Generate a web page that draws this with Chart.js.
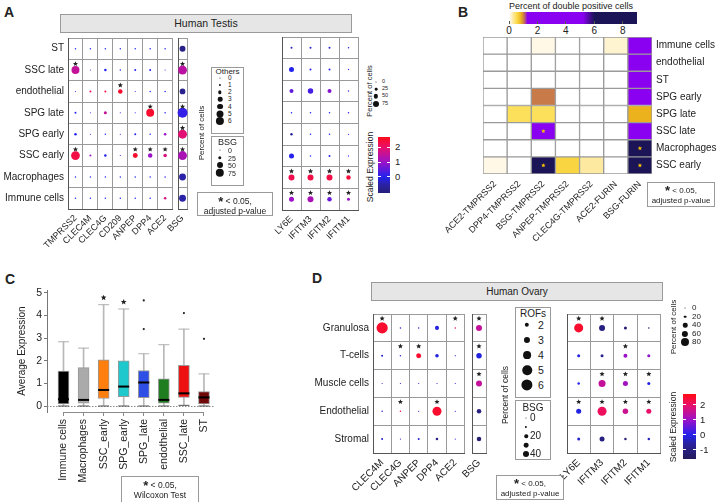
<!DOCTYPE html>
<html>
<head>
<meta charset="utf-8">
<title>Testis / ovary expression</title>
<script src="https://cdn.jsdelivr.net/npm/chart.js@4.4.1/dist/chart.umd.min.js"></script>
<style>
  body { margin: 0; background: #fff; font-family: "Liberation Sans", Arial, sans-serif; color: #222; }
  #page { position: relative; width: 718px; height: 502px; overflow: hidden; }
  #page canvas { position: absolute; }
  .t { position: absolute; white-space: nowrap; line-height: 1; }
  .box { position: absolute; box-sizing: border-box; border: 1px solid #9a9a9a; background: #fff; }
  .hdr { position: absolute; box-sizing: border-box; border: 1px solid #9a9a9a; background: #e6e6e6; text-align: center; }
  .dot { position: absolute; border-radius: 50%; background: #111; transform: translate(-50%, -50%); }
  .note { position: absolute; box-sizing: border-box; border: 1px solid #9a9a9a; text-align: center; line-height: 1.2; padding-top: 3px; }
  .note b { font-size: 13px; line-height: 0; position: relative; top: 2px; }
</style>
</head>
<body>
<div id="page"></div>
<script>
// ---- panel A: human testis dot plot ----
const aRows = ['ST', 'SSC late', 'endothelial', 'SPG late', 'SPG early', 'SSC early', 'Macrophages', 'Immune cells'];
const aGenes = ['TMPRSS2', 'CLEC4M', 'CLEC4G', 'CD209', 'ANPEP', 'DPP4', 'ACE2'];
const aPct = [
  [0.4, 0.4, 0.4, 0.4, 0.4, 0.4, 0.4],
  [5.8, 0.1, 1.25, 0.4, 0.8, 0.8, 0.1],
  [0.1, 0.8, 0.8, 2.9, 0.1, 0.4, 0.4],
  [0.8, 0.1, 1.7, 0.1, 0.1, 5.8, 0.4],
  [1.25, 0.1, 0.4, 0.1, 0.8, 0.4, 1.25],
  [6.5, 0.8, 1.25, 0.1, 3.3, 2.9, 2.1],
  [0.4, 0.4, 0.4, 0.4, 0.4, 0.4, 0.4],
  [0.4, 0.4, 0.4, 0.4, 0.4, 0.4, 1.25]
];
const aExpr = [
  [0, 0, 0, 0, 0, 0, 0],
  [1.5, 0, 0, 0, 0, 0, 0],
  [0, 2.2, 2.3, 2.5, 0, 0, 0],
  [0, 0, 1.5, 0, 0, 2.5, 0],
  [0, 0, 0, 0, 0, 0, 1.0],
  [2.3, 1.0, 0, 0, 2.5, 1.0, 1.8],
  [0, 0, 0, 0, 0, 0, 0],
  [0, 0, 0, 0, 0, 0, 1.8]
];
const aSig = [
  [0, 0, 0, 0, 0, 0, 0],
  [1, 0, 0, 0, 0, 0, 0],
  [0, 0, 0, 1, 0, 0, 0],
  [0, 0, 0, 0, 0, 1, 0],
  [0, 0, 0, 0, 0, 0, 0],
  [1, 0, 0, 0, 1, 1, 1],
  [0, 0, 0, 0, 0, 0, 0],
  [0, 0, 0, 0, 0, 0, 0]
];
const aBsgPct = [50, 80, 48, 90, 80, 80, 60, 60];
const aBsgExpr = [-0.9, 1.4, -0.8, 0.15, 1.9, 1.2, -0.5, -0.5];
const aBsgSig = [0, 1, 0, 1, 1, 1, 0, 0];
const aIfGenes = ['LY6E', 'IFITM3', 'IFITM2', 'IFITM1'];
const aIfPct = [
  [15, 15, 15, 8], [60, 15, 15, 3], [45, 67, 45, 8], [8, 8, 8, 8],
  [22, 8, 8, 3], [60, 8, 15, 3], [75, 75, 75, 52], [60, 75, 52, 30]
];
const aIfExpr = [
  [-0.3, -0.2, -0.2, 0], [0, -0.1, -0.1, 0], [0.5, 0.3, 0.8, 0.3], [0, 0, 0, 0.2],
  [-0.6, 0, 0, 0], [0.05, 0, -0.1, 0], [2.2, 2.3, 2.3, 2.4], [1.0, 1.2, 0.6, 1.0]
];
const aIfSig = [
  [0, 0, 0, 0], [0, 0, 0, 0], [0, 0, 0, 0], [0, 0, 0, 0],
  [0, 0, 0, 0], [0, 0, 0, 0], [1, 1, 1, 1], [1, 1, 1, 1]
];

// ---- panel B: double positive heatmap ----
const bRows = ['Immune cells', 'endothelial', 'ST', 'SPG early', 'SPG late', 'SSC late', 'Macrophages', 'SSC early'];
const bPairs = ['ACE2-TMPRSS2', 'DPP4-TMPRSS2', 'BSG-TMPRSS2', 'ANPEP-TMPRSS2', 'CLEC4G-TMPRSS2', 'ACE2-FURIN', 'BSG-FURIN'];
const bVals = [
  [0, 0, 0.08, 0, 0, 0.15, 3.5],
  [0, 0, 0, 0, 0, 0, 3.5],
  [0, 0, 0, 0, 0, 0, 3.5],
  [0, 0, 1.05, 0, 0, 0, 3.5],
  [0, 0.5, 0.5, 0, 0, 0, 0.85],
  [0, 0, 3.0, 0, 0, 0, 3.5],
  [0, 0, 0, 0, 0, 0, 7.5],
  [0.08, 0, 7.5, 0.6, 0.3, 0, 7.5]
];
const bSig = [
  [0, 0, 0, 0, 0, 0, 0], [0, 0, 0, 0, 0, 0, 0], [0, 0, 0, 0, 0, 0, 0], [0, 0, 0, 0, 0, 0, 0],
  [0, 0, 0, 0, 0, 0, 0], [0, 0, 1, 0, 0, 0, 0], [0, 0, 0, 0, 0, 0, 1], [0, 0, 1, 0, 0, 0, 1]
];
const bTicks = [0, 2, 4, 6, 8];

// ---- panel C: boxplot ----
const cCats = ['Immune cells', 'Macrophages', 'SSC_early', 'SPG_early', 'SPG_late', 'endothelial', 'SSC_late', 'ST'];
const cMin = [0, 0, 0, 0, 0, 0, 0.03, 0];
const cQ1 = [0.09, 0.12, 0.33, 0.41, 0.37, 0.12, 0.38, 0.09];
const cMed = [0.3, 0.27, 0.71, 0.86, 1.04, 0.27, 0.56, 0.38];
const cQ3 = [1.55, 1.70, 2.04, 2.0, 1.57, 1.2, 1.80, 0.64];
const cMax = [2.84, 2.56, 4.48, 4.29, 2.31, 2.71, 3.40, 1.42];
const cOut = [[], [], [], [], [3.40, 4.67], [], [4.11], [2.97]];
const cSig = [0, 0, 1, 1, 0, 0, 0, 0];
const cColors = ['#000000', '#aaaaaa', '#ff7f0e', '#1fc8cc', '#2d4fe6', '#1e7d1e', '#ee1111', '#700808'];
const cYTicks = [0, 1, 2, 3, 4, 5];

// ---- panel D: human ovary dot plot ----
const dRows = ['Granulosa', 'T-cells', 'Muscle cells', 'Endothelial', 'Stromal'];
const dGenes = ['CLEC4M', 'CLEC4G', 'ANPEP', 'DPP4', 'ACE2'];
const dPct = [
  [6.0, 0.3, 0.3, 1.8, 0.3],
  [0.6, 0.3, 2.35, 1.5, 0.1],
  [0.1, 0.1, 0.1, 0.1, 0.1],
  [0.3, 0.3, 0.1, 4.7, 0.1],
  [0.6, 0.1, 0.6, 0.9, 0.1]
];
const dExpr = [
  [2.5, -0.2, -0.2, -0.1, 2.3],
  [-0.2, -0.2, 2.5, -0.1, -0.2],
  [-0.2, -0.2, -0.2, -0.2, -0.2],
  [-0.2, 2.3, -0.2, 2.5, -0.2],
  [-0.2, -0.2, -0.2, -0.8, -0.2]
];
const dSig = [
  [1, 0, 0, 0, 1], [0, 1, 1, 0, 0], [0, 0, 0, 0, 0], [0, 1, 0, 1, 0], [0, 0, 0, 0, 0]
];
const dBsgPct = [40, 36, 40, 28, 28];
const dBsgExpr = [1.5, -0.1, 1.5, -1.0, -1.3];
const dBsgSig = [1, 1, 1, 0, 0];
const dIfGenes = ['LY6E', 'IFITM3', 'IFITM2', 'IFITM1'];
const dIfPct = [
  [92, 57, 23, 6], [23, 23, 34, 23], [17, 69, 46, 23], [46, 92, 52, 46], [23, 46, 17, 17]
];
const dIfExpr = [
  [2.5, -1.0, -1.2, -1.3], [-0.1, -0.9, 1.0, 0.9], [0, 1.5, 1.1, 0], [-0.1, 2.1, 1.6, 2.0], [-0.2, -1.0, -1.2, -0.3]
];
const dIfSig = [
  [1, 1, 0, 0], [0, 0, 1, 0], [0, 1, 1, 1], [1, 1, 1, 1], [0, 0, 0, 0]
];

// size scales (radius in px) for each legend
const aRad = v => 0.5 + 3.6 * v / 6;
const aBsgRad = v => 0.5 + 3.7 * v / 75;
const aIfRad = v => 0.5 + 2.5 * v / 75;
const dRad = v => 0.5 + 0.85 * v;
const dBsgRad = v => 0.5 + 2.5 * v / 40;
const dIfRad = v => 0.5 + 3.5 * v / 80;

function ramp(stops) {
  const s = stops.map(p => [p[0], parseInt(p[1].slice(1, 3), 16), parseInt(p[1].slice(3, 5), 16), parseInt(p[1].slice(5, 7), 16)]);
  const rgb = c => 'rgb(' + c[1] + ',' + c[2] + ',' + c[3] + ')';
  return v => {
    if (v <= s[0][0]) return rgb(s[0]);
    for (let k = 1; k < s.length; k++) {
      if (v <= s[k][0]) {
        const a = s[k - 1], b = s[k], t = (v - a[0]) / (b[0] - a[0]);
        return 'rgb(' + [1, 2, 3].map(q => Math.round(a[q] + t * (b[q] - a[q]))).join(',') + ')';
      }
    }
    return rgb(s[s.length - 1]);
  };
}
const exprColor = ramp([[-1.6, '#231c5c'], [-0.6, '#2a229a'], [0, '#2222ee'], [1, '#9b12c9'], [2, '#ea106a'], [2.7, '#ff0a14']]);
const heatColor = ramp([[0, '#ffffff'], [0.05, '#fffaf0'], [0.3, '#fdeaa0'], [0.55, '#fcdc48'], [0.85, '#ebb21e'],
  [1.05, '#c87a48'], [1.3, '#8a00f0'], [5.2, '#8a00f0'], [6, '#1b1558'], [9, '#1b1558']]);

Chart.defaults.font.family = '"Liberation Sans", Arial, sans-serif';
Chart.defaults.color = '#222';
Chart.defaults.animation = false;
Chart.defaults.plugins.legend.display = false;
Chart.defaults.plugins.tooltip.enabled = false;

const page = document.getElementById('page');

// pin axis sizes so every plot area lands where the reference has it
const fixX = h => s => { s.height = h; s.paddingLeft = 0; s.paddingRight = 0; };
const fixY = w => s => { s.width = w; s.paddingTop = 0; s.paddingBottom = 0; };

function place(x, y, w, h) {
  const c = document.createElement('canvas');
  c.width = w; c.height = h;
  c.style.left = x + 'px'; c.style.top = y + 'px';
  page.appendChild(c);
  return c;
}
function el(cls, x, y, w, h, html) {
  const d = document.createElement('div');
  d.className = cls;
  d.style.cssText = `left:${x}px;top:${y}px;width:${w}px;height:${h}px`;
  if (html) d.innerHTML = html;
  page.appendChild(d);
  return d;
}
function txt(x, y, s, size, align, extra) {
  const d = document.createElement('div');
  d.className = 't';
  d.textContent = s;
  const tx = align === 'l' ? '0' : align === 'r' ? '-100%' : '-50%';
  d.style.cssText = `left:${x}px;top:${y}px;font-size:${size}px;transform:translate(${tx},-50%);` + (extra || '');
  page.appendChild(d);
  return d;
}
function vtxt(x, y, s, size) {
  return txt(x, y, s, size, 'c', 'transform:translate(-50%,-50%) rotate(-90deg);');
}
function dot(x, y, d) {
  const e = document.createElement('div');
  e.className = 'dot';
  e.style.cssText = `left:${x}px;top:${y}px;width:${d}px;height:${d}px`;
  page.appendChild(e);
}
function exprBar(x, y, w, h, vTop, vBot, ticks, labX) {
  const stops = [];
  for (let k = 0; k <= 20; k++) stops.push(exprColor(vTop + (vBot - vTop) * k / 20) + ' ' + (k * 5) + '%');
  const b = el('t', x, y, w, h);
  b.style.background = 'linear-gradient(to bottom,' + stops.join(',') + ')';
  ticks.forEach(v => {
    const py = y + (vTop - v) / (vTop - vBot) * h;
    el('t', x, py - 0.5, 3, 1).style.background = '#fff';
    el('t', x + w - 3, py - 0.5, 3, 1).style.background = '#fff';
    txt(labX, py, String(v), 9.5, 'l');
  });
}
function drawStar(ctx, x, y, r, color) {
  ctx.save();
  ctx.fillStyle = color;
  ctx.beginPath();
  for (let k = 0; k < 10; k++) {
    const ang = -Math.PI / 2 + k * Math.PI / 5;
    const rr = k % 2 ? r * 0.45 : r;
    ctx.lineTo(x + rr * Math.cos(ang), y + rr * Math.sin(ang));
  }
  ctx.closePath();
  ctx.fill();
  ctx.restore();
}

// stars above significant marks
const starPlugin = {
  id: 'stars',
  afterDatasetsDraw(chart) {
    const ctx = chart.ctx;
    chart.data.datasets.forEach((ds, di) => {
      if (!ds.sig) return;
      const els = chart.getDatasetMeta(di).data;
      ds.sig.forEach((on, k) => {
        if (!on) return;
        const e = els[k];
        let y;
        if (ds.starAt === 'cell') y = (e.y + e.base) / 2;
        else if (ds.starAt === 'cap') y = e.y - 7;
        else {
          const ys = chart.scales.y;
          const rh = Math.abs(ys.getPixelForTick(1) - ys.getPixelForTick(0));
          y = e.y - rh / 2 + 4.5;
        }
        drawStar(ctx, e.x, y, ds.starSize || 2.7, ds.starColor || '#222');
      });
    });
  }
};

function dotPlot(o) {
  const pts = [], cols = [], flags = [];
  o.rows.forEach((row, i) => o.genes.forEach((g, j) => {
    pts.push({ x: g, y: row, r: o.rad(o.pct[i][j]) });
    cols.push(exprColor(o.expr[i][j]));
    flags.push(o.sig[i][j]);
  }));
  return new Chart(place(o.left, o.top, o.width, o.height), {
    type: 'bubble',
    data: { datasets: [{ data: pts, backgroundColor: cols, borderWidth: 0, sig: flags }] },
    options: {
      responsive: false,
      layout: { padding: { left: o.padL, top: o.padT, right: o.padR, bottom: 0 } },
      scales: {
        x: {
          type: 'category', labels: o.genes, offset: true,
          grid: { offset: true, color: '#9a9a9a', drawTicks: false },
          border: { color: '#555' },
          ticks: { autoSkip: false, minRotation: 45, maxRotation: 45, padding: 4, font: { size: o.xFont } },
          afterFit: fixX(o.axisH)
        },
        y: {
          type: 'category', labels: o.rows, offset: true,
          grid: { offset: true, color: '#9a9a9a', drawTicks: false },
          border: { color: '#555' },
          ticks: { display: o.showY, padding: 4, font: { size: 10 } },
          afterFit: fixY(o.axisW)
        }
      }
    },
    plugins: [starPlugin]
  });
}

// ---------- A ----------
txt(4, 12, 'A', 14, 'l', 'font-weight:bold;');
el('hdr', 60, 14, 292, 19, 'Human Testis').style.cssText += ';font-size:10.5px;line-height:17px';
dotPlot({ left: 0, top: 30, width: 177, height: 222, padL: 0, padT: 8, padR: 2, axisW: 68, axisH: 43, showY: true, xFont: 9,
  rows: aRows, genes: aGenes, pct: aPct, expr: aExpr, sig: aSig, rad: aRad });
dotPlot({ left: 158, top: 30, width: 34, height: 222, padL: 20, padT: 8, padR: 2, axisW: 0, axisH: 43, showY: false, xFont: 9,
  rows: aRows, genes: ['BSG'], pct: aBsgPct.map(v => [v]), expr: aBsgExpr.map(v => [v]), sig: aBsgSig.map(v => [v]), rad: aBsgRad });
dotPlot({ left: 255, top: 29, width: 107, height: 223, padL: 27, padT: 8, padR: 2, axisW: 0, axisH: 42, showY: false, xFont: 9,
  rows: aRows, genes: aIfGenes, pct: aIfPct, expr: aIfExpr, sig: aIfSig, rad: aIfRad });

el('box', 211, 67, 33, 67);
txt(227.5, 71.5, 'Others', 8, 'c');
[0, 1, 2, 3, 4, 5, 6].forEach((v, k) => {
  const y = 78 + k * 7.15;
  dot(220, y, 2 * aRad(v));
  txt(228, y, String(v), 6.5, 'l');
});
el('box', 211, 136, 33, 50);
txt(227.5, 141.5, 'BSG', 9, 'c');
[0, 25, 50, 75].forEach((v, k) => {
  const y = 150 + k * 7.7;
  dot(220, y, 2 * aBsgRad(v));
  txt(228, y, String(v), 7, 'l');
});
vtxt(202, 133, 'Percent of cells', 8);
el('note', 197, 192, 76, 24, '<b>*</b> &lt; 0.05,<br>adjusted p-value').style.fontSize = '8.5px';

vtxt(370, 91, 'Percent of cells', 7.5);
[0, 25, 50, 75].forEach((v, k) => {
  const y = 82 + k * 7.2;
  dot(376, y, 2 * aIfRad(v));
  txt(382, y, String(v), 5.5, 'l');
});
vtxt(370, 167, 'Scaled Expression', 8.5);
exprBar(378, 137, 12, 56, 2.67, -1.07, [2, 1, 0], 395);

// ---------- B ----------
txt(458, 12, 'B', 14, 'l', 'font-weight:bold;');
txt(571, 6, 'Percent of double positive cells', 9, 'c');
{
  const stops = [];
  for (let k = 0; k <= 90; k++) stops.push(heatColor(k / 10) + ' ' + (k / 90 * 100).toFixed(2) + '%');
  el('t', 509, 12, 128, 12).style.background = 'linear-gradient(to right,' + stops.join(',') + ')';
  bTicks.forEach(v => {
    const px = 509 + v / 9 * 128;
    el('t', px - 0.5, 21, 1, 3).style.background = '#555';
    txt(px, 31, String(v), 10, 'c');
  });
}
new Chart(place(430, 30, 288, 222), {
  type: 'bar',
  data: {
    labels: bPairs,
    datasets: bRows.map((row, i) => ({
      label: row,
      data: bPairs.map(() => 1),
      backgroundColor: bVals[i].map(heatColor),
      borderColor: '#9a9a9a',
      borderWidth: 1,
      borderSkipped: false,
      categoryPercentage: 1,
      barPercentage: 1,
      sig: bSig[i], starAt: 'cell', starColor: '#f2c200', starSize: 2.3
    }))
  },
  options: {
    responsive: false,
    layout: { padding: { left: 53, top: 7, right: 0, bottom: 0 } },
    scales: {
      x: {
        stacked: true,
        grid: { display: false, drawTicks: false }, border: { display: false },
        ticks: { autoSkip: false, minRotation: 45, maxRotation: 45, padding: 5, font: { size: 9 } },
        afterFit: fixX(78)
      },
      y: {
        stacked: true, position: 'right', reverse: true, min: 0, max: bRows.length,
        grid: { display: false, drawTicks: false }, border: { display: false },
        afterBuildTicks: s => { s.ticks = bRows.map((r, i) => ({ value: i + 0.5 })); },
        ticks: { padding: 4, font: { size: 10 }, callback: (v, i) => bRows[i] },
        afterFit: fixY(66)
      }
    }
  },
  plugins: [starPlugin]
});
el('note', 647, 182, 68, 25, '<b>*</b> &lt; 0.05,<br>adjusted p-value').style.fontSize = '8px';

// ---------- C ----------
txt(5, 279, 'C', 14, 'l', 'font-weight:bold;');
const cBoxPlugin = {
  id: 'cAxes',
  beforeDatasetsDraw(chart) {
    const { ctx, chartArea, scales } = chart;
    const y0 = Math.round(scales.y.getPixelForValue(0)) + 0.5;
    ctx.save();
    ctx.strokeStyle = '#8a8a8a';
    ctx.setLineDash([1.5, 1.5]);
    ctx.beginPath(); ctx.moveTo(chartArea.left, y0); ctx.lineTo(chartArea.right, y0); ctx.stroke();
    ctx.restore();
  },
  afterDraw(chart) {
    const { ctx, chartArea, scales } = chart;
    const yb = Math.round(chartArea.bottom) + 0.5;
    ctx.save();
    ctx.strokeStyle = '#8a8a8a';
    ctx.beginPath();
    ctx.moveTo(scales.x.getPixelForValue(0), yb);
    ctx.lineTo(scales.x.getPixelForValue(cCats.length - 1), yb);
    ctx.stroke();
    ctx.restore();
  }
};
const cOutPts = [];
cOut.forEach((list, i) => list.forEach(v => cOutPts.push({ x: i, y: v })));
new Chart(place(0, 280, 222, 222), {
  type: 'bar',
  data: {
    datasets: [
      { type: 'line', showLine: false, order: 0, data: cMed.map((v, i) => ({ x: i, y: v })),
        pointStyle: 'line', pointRadius: 5.5, pointBorderWidth: 2, pointBorderColor: '#000' },
      { type: 'line', showLine: false, order: 1, data: cMax.map((v, i) => ({ x: i, y: v })),
        pointStyle: 'line', pointRadius: 5.5, pointBorderWidth: 1, pointBorderColor: '#b0b0b0',
        sig: cSig, starAt: 'cap', starSize: 3 },
      { type: 'line', showLine: false, order: 1, data: cMin.map((v, i) => ({ x: i, y: v })),
        pointStyle: 'line', pointRadius: 5.5, pointBorderWidth: 1, pointBorderColor: '#555' },
      { type: 'line', showLine: false, order: 1, data: cOutPts,
        pointRadius: 1.1, pointBackgroundColor: '#222', pointBorderWidth: 0 },
      { order: 2, data: cQ1.map((v, i) => ({ x: i, y: [v, cQ3[i]] })), backgroundColor: cColors,
        borderColor: '#999', borderWidth: 1, borderSkipped: false, barThickness: 11, grouped: false },
      { order: 3, data: cMin.map((v, i) => ({ x: i, y: [v, cMax[i]] })), backgroundColor: '#b8b8b8',
        barThickness: 1, grouped: false }
    ]
  },
  options: {
    responsive: false,
    layout: { padding: { left: 0, top: 10, right: 8, bottom: 0 } },
    scales: {
      x: {
        type: 'linear', offset: false, min: -0.822, max: cCats.length - 0.5,
        grid: { display: true, drawOnChartArea: false, offset: false, tickLength: 4, color: '#8a8a8a' },
        border: { display: false },
        afterBuildTicks: s => { s.ticks = cCats.map((c, i) => ({ value: i })); },
        ticks: { autoSkip: false, minRotation: 90, maxRotation: 90, padding: 3, font: { size: 10.5 },
          callback: v => cCats[v] },
        afterFit: fixX(90)
      },
      y: {
        min: -0.265, max: 5.13,
        grid: { drawOnChartArea: false, tickLength: 3, color: '#777' },
        border: { color: '#777' },
        afterBuildTicks: s => { s.ticks = cYTicks.map(v => ({ value: v })); },
        ticks: { padding: 2, font: { size: 10.5 } },
        title: { display: true, text: 'Average Expression', font: { size: 10 }, padding: { top: 16, bottom: 0 } },
        afterFit: fixY(47)
      }
    }
  },
  plugins: [cBoxPlugin, starPlugin]
});
el('note', 121, 476, 78, 30, '<b>*</b> &lt; 0.05,<br>Wilcoxon Test').style.fontSize = '8.5px';

// ---------- D ----------
txt(312, 278, 'D', 14, 'l', 'font-weight:bold;');
el('hdr', 371, 282, 292, 19, 'Human Ovary').style.cssText += ';font-size:10px;line-height:17px';
dotPlot({ left: 295, top: 305, width: 175, height: 197, padL: 0, padT: 9, padR: 2, axisW: 78, axisH: 49, showY: true, xFont: 10,
  rows: dRows, genes: dGenes, pct: dPct, expr: dExpr, sig: dSig, rad: dRad });
dotPlot({ left: 452, top: 305, width: 38, height: 197, padL: 20, padT: 9, padR: 2, axisW: 0, axisH: 49, showY: false, xFont: 10,
  rows: dRows, genes: ['BSG'], pct: dBsgPct.map(v => [v]), expr: dBsgExpr.map(v => [v]), sig: dBsgSig.map(v => [v]), rad: dBsgRad });
dotPlot({ left: 537, top: 305, width: 128, height: 197, padL: 30, padT: 9, padR: 2, axisW: 0, axisH: 49, showY: false, xFont: 10,
  rows: dRows, genes: dIfGenes, pct: dIfPct, expr: dIfExpr, sig: dIfSig, rad: dIfRad });

el('box', 515, 307, 36, 91);
txt(533, 313.5, 'ROFs', 10, 'c');
[2, 3, 4, 5, 6].forEach((v, k) => {
  const y = 325 + k * 15;
  dot(527, y, 2 * dRad(v));
  txt(538, y, String(v), 10.5, 'l');
});
el('box', 515, 400, 36, 60);
txt(533, 407.5, 'BSG', 10, 'c');
[0, 10, 20, 30, 40].forEach((v, k) => {
  const y = 418 + k * 9;
  dot(526, y, 2 * dBsgRad(v));
  if (v % 20 === 0) txt(530, y, String(v), 10, 'l');
});
vtxt(505, 395, 'Percent of cells', 8.5);
el('note', 496, 475, 68, 25, '<b>*</b> &lt; 0.05,<br>adjusted p-value').style.fontSize = '8px';

vtxt(674, 327, 'Percent of cells', 8);
[0, 20, 40, 60, 80].forEach((v, k) => {
  const y = 308 + k * 8.5;
  dot(685, y, 2 * dIfRad(v));
  txt(692, y, String(v), 8, 'l');
});
vtxt(673, 427, 'Scaled Expression', 8.5);
exprBar(683, 394, 13, 65, 2.73, -1.6, [2, 1, 0, -1], 700);
</script>
</body>
</html>
